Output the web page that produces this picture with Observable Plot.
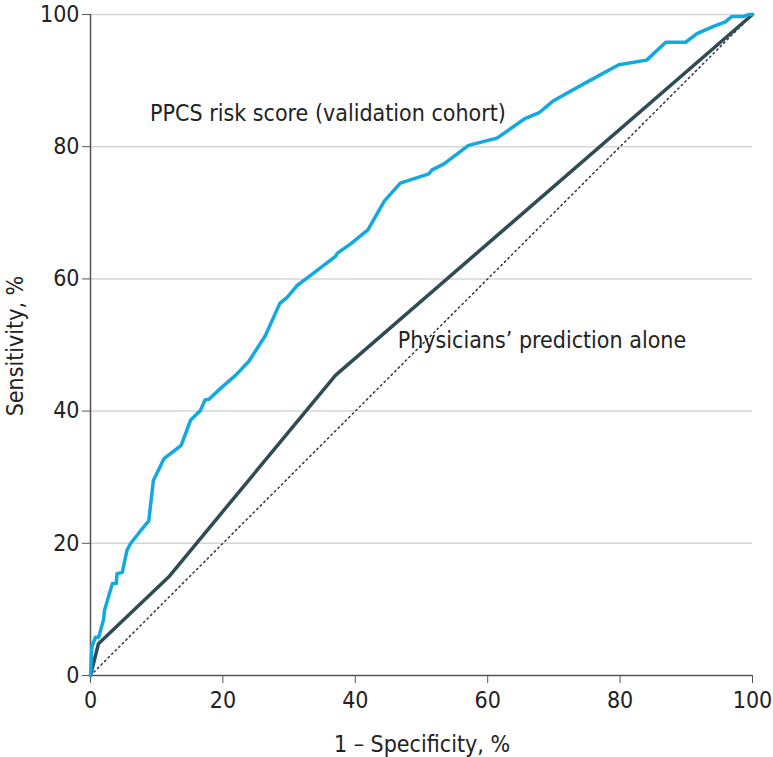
<!DOCTYPE html>
<html>
<head>
<meta charset="utf-8">
<script src="https://cdn.jsdelivr.net/npm/d3@7"></script>
<script src="https://cdn.jsdelivr.net/npm/@observablehq/plot@0.6"></script>
<style>
  html, body { margin: 0; padding: 0; background: #fff; }
  #chart svg { display: block; }
</style>
</head>
<body>
<div id="chart"></div>
<script>
// PPCS risk score (validation cohort): 1 - specificity (%), sensitivity (%)
const ppcsFpr = [0, 0.2, 0.75, 1.25, 2.0, 2.1, 3.3, 3.9, 4.0, 4.8, 5.5, 6.0, 7.8, 8.8, 9.5, 11.1, 13.7, 15.1, 16.6, 17.3, 17.9, 19.6, 21.9, 23.9, 26.4, 28.6, 29.7, 31.2, 33.2, 37.0, 37.3, 39.3, 41.9, 44.4, 46.8, 51.1, 51.6, 53.4, 57.1, 61.4, 65.7, 67.7, 70.0, 74.5, 79.8, 84.0, 86.9, 89.9, 91.6, 94.1, 95.9, 96.9, 98.7, 99.4, 100];
const ppcsTpr = [0, 4.3, 5.8, 5.8, 8.6, 9.8, 13.9, 13.9, 15.4, 15.6, 18.9, 19.9, 22.2, 23.4, 29.5, 32.8, 34.8, 38.6, 40.1, 41.7, 41.8, 43.4, 45.4, 47.5, 51.4, 56.3, 57.2, 59.0, 60.5, 63.4, 63.9, 65.3, 67.4, 71.8, 74.5, 75.9, 76.5, 77.4, 80.2, 81.3, 84.3, 85.1, 87.0, 89.5, 92.4, 93.1, 95.8, 95.8, 97.1, 98.2, 98.9, 99.7, 99.7, 100, 100];

// Physicians' prediction alone
const physFpr = [0, 1.2, 11.8, 37.0, 100];
const physTpr = [0, 4.8, 14.9, 45.4, 100];

// Reference (chance) line
const refFpr = [0, 100];
const refTpr = [0, 100];

const ticks = [0, 20, 40, 60, 80, 100];
const gridTicks = [20, 40, 60, 80, 100];

const labels = [
  {text: "PPCS risk score (validation cohort)", x: 9.0, y: 85.0},
  {text: "Physicians\u2019 prediction alone", x: 46.4, y: 50.6}
];

const ppcs = ppcsFpr.map((x, i) => ({x, y: ppcsTpr[i]}));
const phys = physFpr.map((x, i) => ({x, y: physTpr[i]}));
const ref = refFpr.map((x, i) => ({x, y: refTpr[i]}));

const FONT = "'DejaVu Sans Condensed', 'Liberation Sans Narrow', sans-serif";
const BLUE = "#12a8e0";
const DARK = "#2e4b56";
const TEXT = "#222";

const chart = Plot.plot({
  width: 773,
  height: 757,
  marginLeft: 90,
  marginRight: 21,
  marginTop: 14,
  marginBottom: 82,
  style: {fontFamily: FONT, fontSize: "23px", color: TEXT, background: "#fff"},
  x: {domain: [0, 100], ticks: ticks, label: null},
  y: {domain: [0, 100], ticks: ticks, label: null},
  marks: [
    Plot.ruleY(gridTicks, {stroke: "#d6d6d6", strokeWidth: 1.5}),
    Plot.axisX({ticks: ticks, tickSize: 8, tickPadding: 8, stroke: "#555", fill: TEXT, fontSize: 23, label: null, tickFormat: d => String(d)}),
    Plot.axisY({ticks: ticks, tickSize: 8, tickPadding: 3, stroke: "#555", fill: TEXT, fontSize: 23, label: null, tickFormat: d => String(d)}),
    Plot.line(ref, {x: "x", y: "y", stroke: "#333", strokeWidth: 1.5, strokeDasharray: "1.5,3.5"}),
    Plot.ruleX([0], {stroke: "#555", strokeWidth: 1.5}),
    Plot.ruleY([0], {stroke: "#555", strokeWidth: 1.5}),
    Plot.line(phys, {x: "x", y: "y", stroke: DARK, strokeWidth: 3.5}),
    Plot.line(ppcs, {x: "x", y: "y", stroke: BLUE, strokeWidth: 3.5, strokeLinejoin: "round"}),
    Plot.text(labels, {x: "x", y: "y", text: "text", textAnchor: "start", fontSize: 23, fill: TEXT})
  ]
});

// Axis titles
const svg = d3.select(chart);
svg.append("text")
  .attr("x", 422).attr("y", 752)
  .attr("text-anchor", "middle")
  .style("font-family", FONT).style("font-size", "23px").attr("fill", TEXT)
  .text("1 \u2013 Specificity, %");
svg.append("text")
  .attr("transform", "translate(23,346) rotate(-90)")
  .attr("text-anchor", "middle")
  .style("font-family", FONT).style("font-size", "23px").attr("fill", TEXT)
  .text("Sensitivity, %");

document.getElementById("chart").appendChild(chart);
</script>
</body>
</html>
